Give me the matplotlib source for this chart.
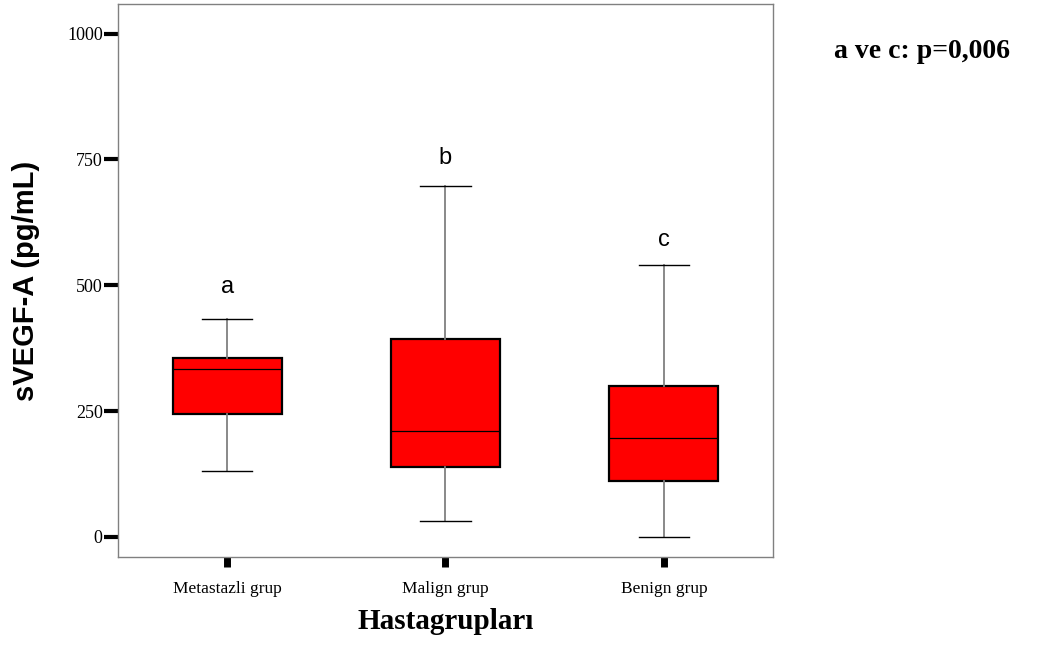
import matplotlib.pyplot as plt

groups = ["Metastazli grup", "Malign grup", "Benign grup"]
letters = ["a", "b", "c"]
whisker_low = [131, 31, 0]
q1 = [244, 139, 111]
median = [333, 210, 196]
q3 = [356, 393, 299]
whisker_high = [432, 698, 541]
letter_y = [497, 752, 589]
y_ticks = [0, 250, 500, 750, 1000]

stats = []
for i in range(len(groups)):
    stats.append({"whislo": whisker_low[i], "q1": q1[i], "med": median[i],
                  "q3": q3[i], "whishi": whisker_high[i], "fliers": [], "label": groups[i]})

fig = plt.figure(figsize=(10.37, 6.48), dpi=100)
ax = fig.add_axes([0.1138, 0.1404, 0.6316, 0.8529])

pos = [1, 2, 3]
ax.bxp(stats, positions=pos, widths=0.5, patch_artist=True, showfliers=False,
       boxprops=dict(facecolor="#ff0000", edgecolor="black", linewidth=1.6),
       medianprops=dict(color="black", linewidth=0.9),
       whiskerprops=dict(color="#808080", linewidth=1.3),
       capprops=dict(color="black", linewidth=1.0),
       capwidths=0.23)

for i in range(len(groups)):
    ax.text(pos[i], letter_y[i], letters[i], ha="center", va="center",
            fontsize=17, family="Liberation Sans")

ax.set_xlim(0.5, 3.5)
ax.set_ylim(-40, 1058)
ax.set_yticks(y_ticks)
ax.set_yticklabels([str(v) for v in y_ticks], family="Liberation Serif", fontsize=13)
ax.set_xticks(pos)
ax.set_xticklabels(groups, family="Liberation Serif", fontsize=12.5)
ax.tick_params(axis="y", length=10, width=3, pad=1)
ax.tick_params(axis="x", length=7, width=5, pad=10)
for s in ax.spines.values():
    s.set_color("#808080")
    s.set_linewidth(1.0)

ax.set_ylabel("sVEGF-A (pg/mL)", family="Liberation Sans", fontweight="bold", fontsize=21)
ax.yaxis.set_label_coords(-0.119, 0.5)
ax.set_xlabel("Hastagrupları", family="Liberation Serif", fontweight="bold", fontsize=21, labelpad=8)

fig.text(0.889, 0.92, "a ve c: p=0,006", ha="center", va="center",
         family="Liberation Serif", fontweight="bold", fontsize=20)

fig.savefig("out.png", dpi=100)
